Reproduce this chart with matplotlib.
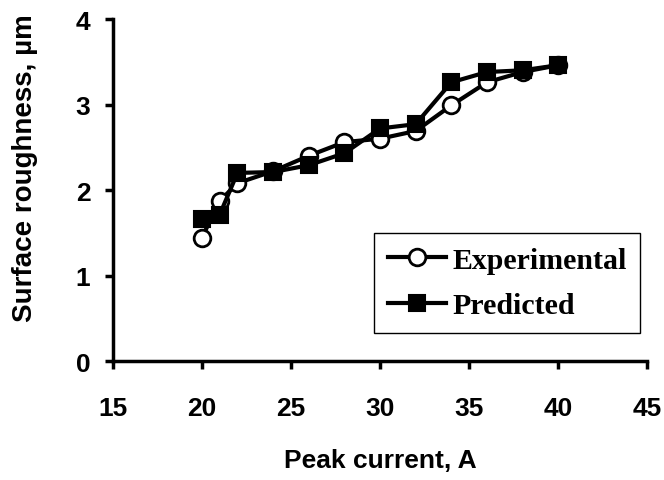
import matplotlib
matplotlib.use("Agg")
import matplotlib.pyplot as plt

peak_current = [20, 21, 22, 24, 26, 28, 30, 32, 34, 36, 38, 40]
experimental = [1.44, 1.87, 2.08, 2.22, 2.40, 2.56, 2.60, 2.69, 2.99, 3.26, 3.38, 3.46]
predicted = [1.66, 1.71, 2.20, 2.21, 2.29, 2.43, 2.72, 2.77, 3.26, 3.38, 3.40, 3.46]

x_ticks = [15, 20, 25, 30, 35, 40, 45]
y_ticks = [0, 1, 2, 3, 4]

sans = "Liberation Sans"
serif = "Liberation Serif"

fig = plt.figure(figsize=(6.64, 4.81), dpi=100)
ax = fig.add_axes([0.1697, 0.2474, 0.8053, 0.711])

ax.plot(peak_current, experimental, color="black", lw=3, marker="o", ms=12,
        mfc="white", mec="black", mew=2, label="Experimental", zorder=3)
ax.plot(peak_current, predicted, color="black", lw=3, marker="s", ms=12,
        mfc="black", mec="black", mew=1.5, label="Predicted", zorder=4)

ax.set_xlim(15, 45)
ax.set_ylim(0, 4)
ax.set_xticks(x_ticks)
ax.set_yticks(y_ticks)

for s in ["top", "right"]:
    ax.spines[s].set_visible(False)
for s in ["left", "bottom"]:
    ax.spines[s].set_linewidth(2.5)

ax.tick_params(direction="out", length=6, width=2.5)
ax.tick_params(axis="x", pad=19)
ax.tick_params(axis="y", pad=10)
for lab in ax.get_xticklabels() + ax.get_yticklabels():
    lab.set_fontfamily(sans)
    lab.set_fontweight("bold")
    lab.set_fontsize(19)

ax.set_xlabel("Peak current, A", fontfamily=sans, fontweight="bold", fontsize=19)
ax.set_ylabel("Surface roughness, µm", fontfamily=sans, fontweight="bold", fontsize=20)
ax.xaxis.set_label_coords(0.5, -0.255)
ax.yaxis.set_label_coords(-0.14, 0.566)

leg = ax.legend(loc="upper left", bbox_to_anchor=(0.489, 0.373), borderaxespad=0,
                prop={"family": serif, "weight": "bold", "size": 21.5},
                handlelength=1.97, handletextpad=0.2, borderpad=0.45,
                labelspacing=0.62, fancybox=False, framealpha=1)
leg.get_frame().set_edgecolor("black")
leg.get_frame().set_linewidth(1)

fig.savefig("out.png", dpi=100)
